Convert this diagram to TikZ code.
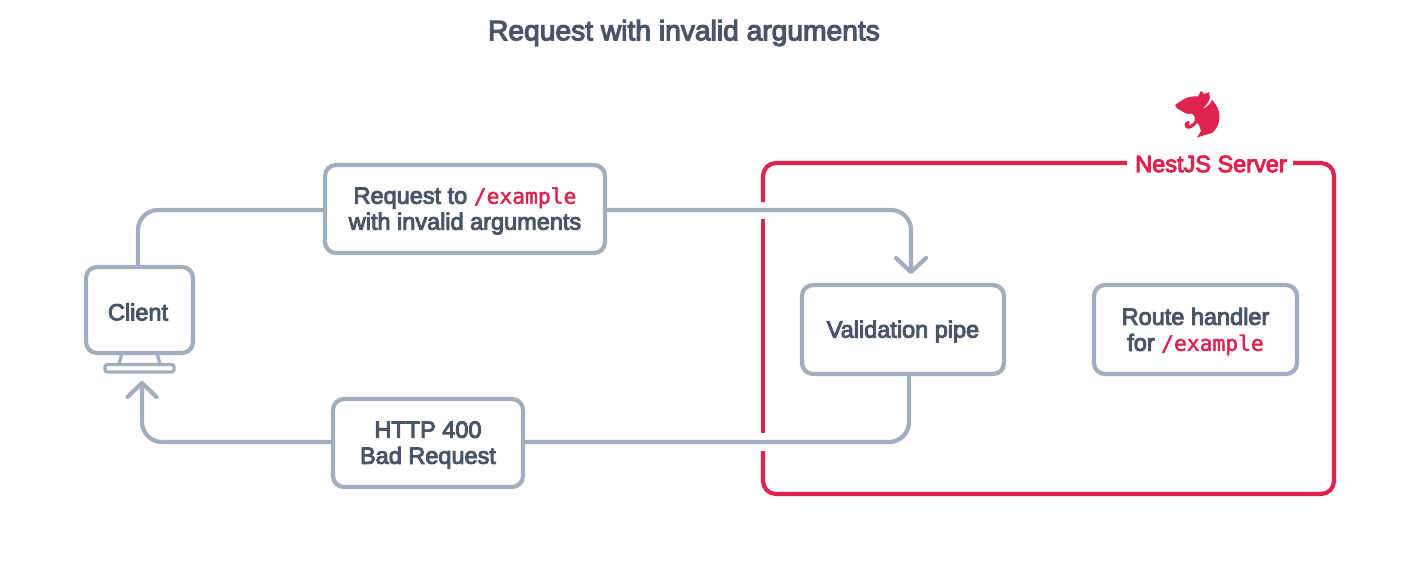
\documentclass[tikz,border=0pt]{standalone}
\usepackage{fontspec}
\setmainfont[FakeBold=4]{Liberation Sans}
\newfontfamily\codefont[FakeBold=2]{DejaVu Sans Mono}
\definecolor{slate}{HTML}{A0AEC0}
\definecolor{ink}{HTML}{4A5568}
\definecolor{nest}{HTML}{E0234E}
\newcommand{\code}[1]{{\fontsize{21.3}{26}\codefont\color{nest}#1}}
\newcommand{\lowered}[1]{\raisebox{-2pt}[\height][\depth]{#1}}
\newcommand{\twolines}[2]{\lowered{\vbox{\halign{\hfil##\hfil\cr #1\cr #2\cr}}}}
\tikzset{
  every node/.style={text=ink,font=\fontsize{23.5}{26}\selectfont},
  boxnode/.style={draw=slate,line width=4.2pt,rounded corners=11pt,fill=white,align=center,inner sep=0pt},
  wire/.style={draw=slate,line width=4.2pt,rounded corners=20pt},
  tipline/.style={draw=slate,line width=4.2pt,line cap=round,line join=round},
  frame/.style={draw=nest,line width=4.2pt,rounded corners=13pt},
}
\begin{document}
\begin{tikzpicture}[x=1pt,y=-1pt]
\useasboundingbox[fill=white] (0,0) rectangle (1420,582);
\node (title) at (684,33) {\fontsize{28.2}{30}\selectfont Request with invalid arguments};
% frame
\coordinate (f1) at (1127,163);
\coordinate (f2) at (763,163);
\coordinate (f3) at (763,202);
\coordinate (f4) at (763,219);
\coordinate (f5) at (763,433);
\coordinate (f6) at (763,451);
\coordinate (f7) at (763,494);
\coordinate (f8) at (1334,494);
\coordinate (f9) at (1334,163);
\coordinate (f10) at (1293,163);
\draw[frame] (f1) -- (f2) -- (f3);
\draw[frame] (f4) -- (f5);
\draw[frame] (f6) -- (f7) -- (f8) -- (f9) -- (f10);
\node[text=nest] (server) at (1211,164) {NestJS Server};
% logo
\fill[nest] (1175,105) -- (1180,101.5) .. controls (1186,97) and (1192,96) .. (1198,96.5) -- (1201,91) -- (1204.5,94) -- (1209,92) -- (1210,98)
 -- (1213,101) .. controls (1217,105) and (1219.5,111) .. (1219.5,117) .. controls (1219.5,124) and (1216,130) .. (1212,133) -- (1205,135) -- (1197,137.5)
 -- (1201,131) -- (1199,125) -- (1197,123) .. controls (1194,128) and (1188,130) .. (1186,128) .. controls (1184,126) and (1184,122) .. (1188,121) -- (1190,122) -- (1188,125) .. controls (1191,125) and (1195,123) .. (1195,118)
 .. controls (1194.5,115) and (1192,112.5) .. (1188,114) -- (1185,113) -- (1180,110) -- (1177,108.5) -- cycle;
\fill[white] (1212,99.5) .. controls (1211,103) and (1207,107) .. (1203,108.5) .. controls (1206,106) and (1209,102) .. (1210,98) -- cycle;
% boxes
\node[boxnode,minimum width=107pt,minimum height=86pt] (client) at (139.5,310) {\lowered{Client}\kern3pt};
\node[boxnode,minimum width=280pt,minimum height=88pt] (req) at (465,209) {\twolines{Request to \code{/example}}{with invalid arguments}};
\node[boxnode,minimum width=202pt,minimum height=89pt] (pipe) at (903,329.5) {\lowered{Validation pipe}};
\node[boxnode,minimum width=203pt,minimum height=89pt] (route) at (1195.5,329.5) {\twolines{Route handler}{for \code{/example}}};
\node[boxnode,minimum width=190pt,minimum height=88pt] (http) at (428,443) {\twolines{HTTP 400}{Bad Request}};
% monitor stand
\draw[draw=slate,line width=3.2pt,rounded corners=2.5pt] (105,364.5) rectangle (174,372) ;
\draw[draw=slate,line width=3.2pt] (122,353) -- (119,364) (157,353) -- (160,364);
% connectors
\coordinate (a1) at (138,210);
\coordinate (a2) at (911,210);
\coordinate (a3) at (911,272);
\coordinate (a4) at (896,258);
\coordinate (a5) at (926,258);
\draw[wire] (req.east |- a2) -- (a2) -- (a3);
\draw[wire] (req.west |- a1) -- (a1) -- (a1 |- client.north);
\draw[tipline] (a4) -- (a3) -- (a5);
\coordinate (b1) at (909,442);
\coordinate (b2) at (142,442);
\coordinate (b3) at (142,383);
\coordinate (b4) at (127.5,397);
\coordinate (b5) at (156.5,397);
\draw[wire] (b1 |- pipe.south) -- (b1) -- (http.east |- b1);
\draw[wire] (http.west |- b2) -- (b2) -- (b3);
\draw[tipline] (b4) -- (b3) -- (b5);
\end{tikzpicture}
\end{document}
